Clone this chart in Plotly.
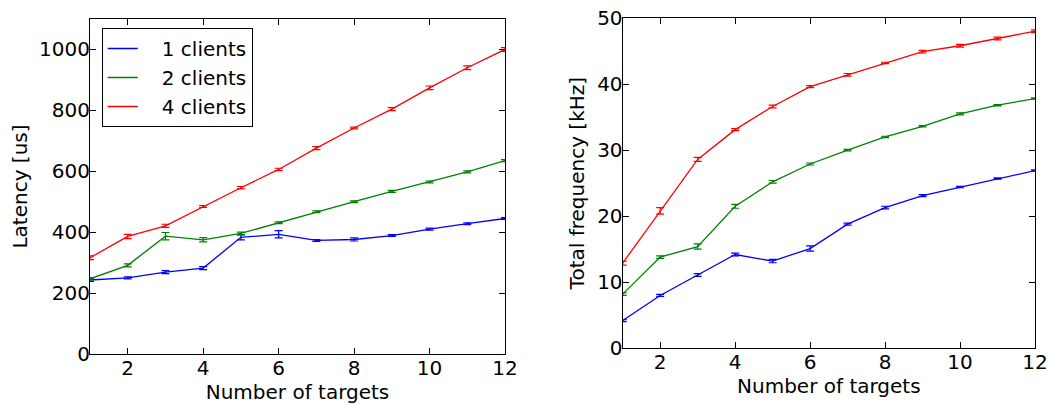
import plotly.graph_objects as go

targets = [1, 2, 3, 4, 5, 6, 7, 8, 9, 10, 11, 12]
series_names = ["1 clients", "2 clients", "4 clients"]
series_colors = ["#0000ff", "#008000", "#ff0000"]

lat_1 = [243, 250, 269, 282, 383, 393, 373, 376, 389, 410, 428, 445]
lat_2 = [247, 291, 387, 375, 396, 431, 467, 500, 534, 565, 598, 635]
lat_4 = [316, 386, 421, 484, 546, 606, 676, 742, 804, 874, 940, 1000]
lat_err_1 = [5, 3, 5, 5, 8, 12, 3, 5, 3, 3, 3, 3]
lat_err_2 = [4, 5, 12, 7, 4, 3, 3, 3, 3, 3, 3, 3]
lat_err_4 = [6, 7, 5, 3, 4, 4, 5, 3, 5, 6, 6, 6]

freq_1 = [4.2, 8.0, 11.1, 14.2, 13.2, 15.1, 18.8, 21.3, 23.1, 24.4, 25.7, 26.9]
freq_2 = [8.2, 13.8, 15.4, 21.5, 25.2, 27.9, 30.0, 32.0, 33.6, 35.5, 36.8, 37.8]
freq_4 = [12.9, 20.8, 28.6, 33.1, 36.6, 39.6, 41.4, 43.2, 44.9, 45.8, 46.9, 48.0]
freq_err_1 = [0.15, 0.15, 0.2, 0.2, 0.25, 0.4, 0.15, 0.2, 0.15, 0.1, 0.1, 0.1]
freq_err_2 = [0.2, 0.2, 0.4, 0.3, 0.2, 0.15, 0.1, 0.1, 0.1, 0.15, 0.1, 0.1]
freq_err_4 = [0.3, 0.5, 0.3, 0.15, 0.2, 0.15, 0.2, 0.1, 0.2, 0.2, 0.2, 0.2]

x_ticks = [2, 4, 6, 8, 10, 12]
lat_ticks = [0, 200, 400, 600, 800, 1000]
freq_ticks = [0, 10, 20, 30, 40, 50]

FONT = "DejaVu Sans"
FS = 20
PAD = "\u00a0\u00a0\u00a0"
OFF = 8  # page body margin
W, H = 1063 - OFF, 405 - OFF
fig = go.Figure()

lat_vals = [lat_1, lat_2, lat_4]
lat_errs = [lat_err_1, lat_err_2, lat_err_4]
freq_vals = [freq_1, freq_2, freq_4]
freq_errs = [freq_err_1, freq_err_2, freq_err_4]

for name, col, ys, es in zip(series_names, series_colors, lat_vals, lat_errs):
    fig.add_trace(go.Scatter(
        x=targets, y=ys, mode="lines", name=PAD + name,
        line=dict(color=col, width=1.3),
        error_y=dict(type="data", array=es, visible=True, color=col, thickness=1.2, width=4),
        xaxis="x", yaxis="y", showlegend=True))

for name, col, ys, es in zip(series_names, series_colors, freq_vals, freq_errs):
    fig.add_trace(go.Scatter(
        x=targets, y=ys, mode="lines", name=name,
        line=dict(color=col, width=1.3),
        error_y=dict(type="data", array=es, visible=True, color=col, thickness=1.2, width=4),
        xaxis="x2", yaxis="y2", showlegend=False))

axis_common = dict(
    showgrid=False, zeroline=False, showline=True, linecolor="black", linewidth=1.2,
    mirror="allticks", ticks="inside", ticklen=6, tickwidth=1, tickcolor="black",
    tickfont=dict(family=FONT, size=FS, color="black"), automargin=False,
    ticklabeloverflow="allow",
)


def px_x(s):
    return (s - OFF) / W


def px_y(s):
    return 1 - (s - OFF) / H


fig.update_layout(
    width=W, height=H,
    margin=dict(l=0, r=0, t=0, b=0),
    paper_bgcolor="white", plot_bgcolor="white",
    font=dict(family=FONT, size=FS, color="black"),
    xaxis=dict(domain=[px_x(90), px_x(505)], range=[1, 12], tickvals=x_ticks,
               ticklabelstandoff=-4,
               title=dict(text="Number of targets", font=dict(family=FONT, size=FS), standoff=4),
               anchor="y", **axis_common),
    yaxis=dict(domain=[px_y(354), px_y(19)], range=[0, 1100], tickvals=lat_ticks,
               ticklabelstandoff=-5,
               title=dict(text="Latency [us]", font=dict(family=FONT, size=FS), standoff=9),
               anchor="x", **axis_common),
    xaxis2=dict(domain=[px_x(622.7), px_x(1035)], range=[1, 12], tickvals=x_ticks,
                ticklabelstandoff=-4,
                title=dict(text="Number of targets", font=dict(family=FONT, size=FS), standoff=4),
                anchor="y2", **axis_common),
    yaxis2=dict(domain=[px_y(348.3), px_y(18)], range=[0, 50], tickvals=freq_ticks,
                ticklabelstandoff=-5,
                title=dict(text="Total frequency [kHz]", font=dict(family=FONT, size=FS), standoff=7),
                anchor="x2", **axis_common),
    legend=dict(x=px_x(101.7), y=px_y(28), xanchor="left", yanchor="top",
                bgcolor="white", bordercolor="black", borderwidth=1,
                font=dict(family=FONT, size=FS), tracegroupgap=0,
                itemwidth=30),
)

fig.write_html("out.html")
